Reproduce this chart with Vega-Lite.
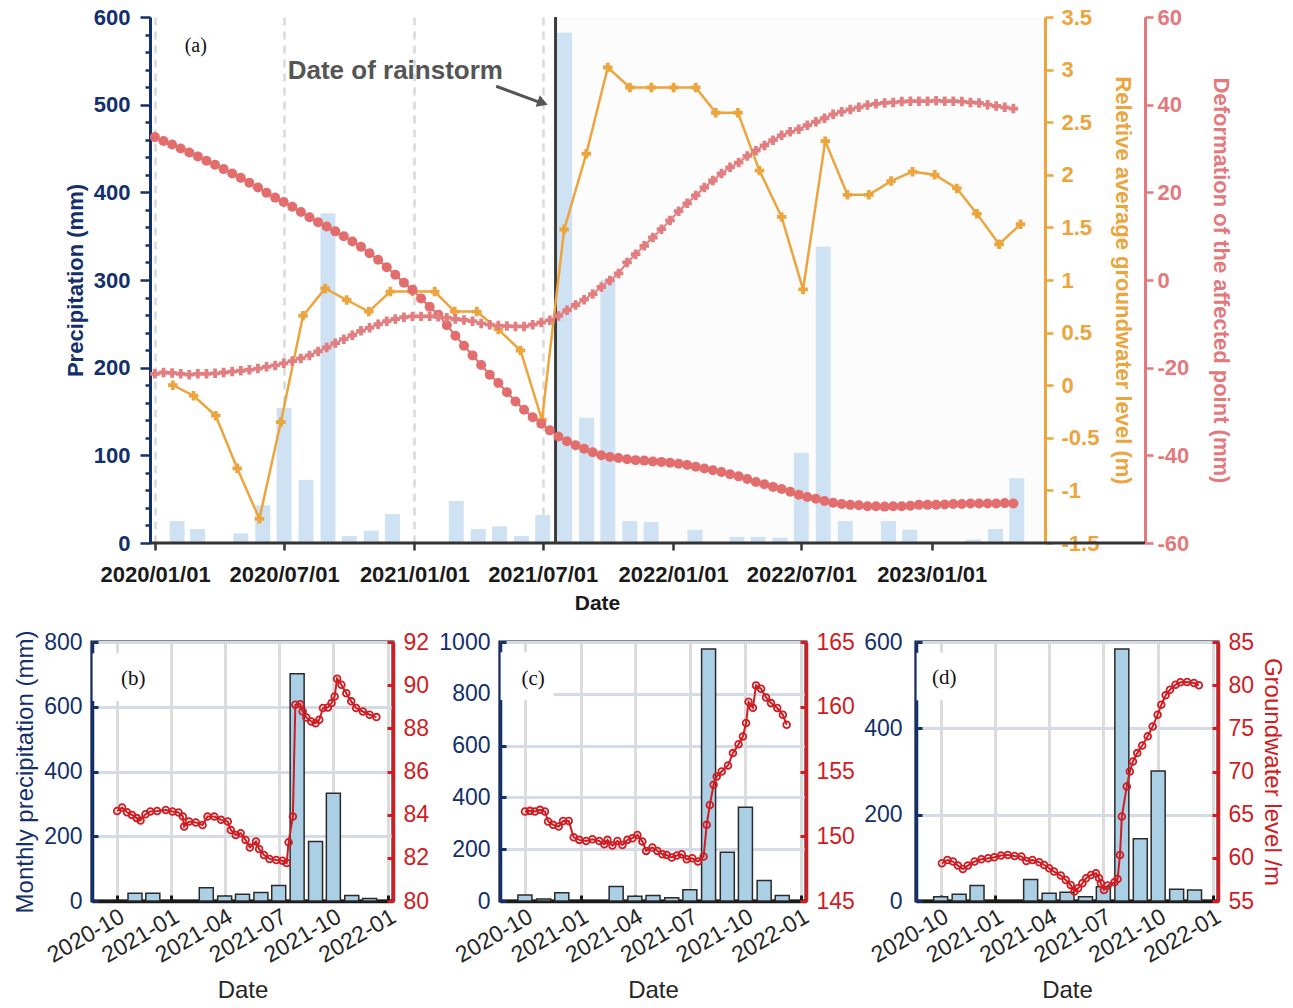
{
  "$schema": "https://vega.github.io/schema/vega-lite/v6.json",
  "padding": {"left": 12, "top": 6, "right": 0, "bottom": 0},
  "background": "white",
  "config": {
    "font": "Liberation Sans",
    "view": {"stroke": null},
    "axis": {"labelFont": "Liberation Sans", "titleFont": "Liberation Sans", "labelOverlap": false, "labelBound": false},
    "title": {"font": "Liberation Sans"}
  },
  "datasets": {
    "one": [{}],
    "pa": [
      {"t": "2020-02-01", "v": 25}, {"t": "2020-03-01", "v": 16}, {"t": "2020-05-01", "v": 11}, {"t": "2020-06-01", "v": 43},
      {"t": "2020-07-01", "v": 154}, {"t": "2020-08-01", "v": 72}, {"t": "2020-09-01", "v": 376}, {"t": "2020-10-01", "v": 8},
      {"t": "2020-11-01", "v": 14}, {"t": "2020-12-01", "v": 33}, {"t": "2021-03-01", "v": 48}, {"t": "2021-04-01", "v": 16},
      {"t": "2021-05-01", "v": 19}, {"t": "2021-06-01", "v": 8}, {"t": "2021-07-01", "v": 32}, {"t": "2021-08-01", "v": 582},
      {"t": "2021-09-01", "v": 143}, {"t": "2021-10-01", "v": 300}, {"t": "2021-11-01", "v": 25}, {"t": "2021-12-01", "v": 24},
      {"t": "2022-02-01", "v": 15}, {"t": "2022-04-01", "v": 7}, {"t": "2022-05-01", "v": 7}, {"t": "2022-06-01", "v": 6},
      {"t": "2022-07-01", "v": 103}, {"t": "2022-08-01", "v": 338}, {"t": "2022-09-01", "v": 25}, {"t": "2022-11-01", "v": 25},
      {"t": "2022-12-01", "v": 15}, {"t": "2023-03-01", "v": 4}, {"t": "2023-04-01", "v": 16}, {"t": "2023-05-01", "v": 74}
    ],
    "gw": [
      {"t": "2020-02-01", "g": 0.0}, {"t": "2020-03-01", "g": -0.1}, {"t": "2020-04-01", "g": -0.29}, {"t": "2020-05-01", "g": -0.79},
      {"t": "2020-06-01", "g": -1.27}, {"t": "2020-07-01", "g": -0.35}, {"t": "2020-08-01", "g": 0.66}, {"t": "2020-09-01", "g": 0.92},
      {"t": "2020-10-01", "g": 0.81}, {"t": "2020-11-01", "g": 0.7}, {"t": "2020-12-01", "g": 0.89}, {"t": "2021-01-01", "g": 0.89},
      {"t": "2021-02-01", "g": 0.89}, {"t": "2021-03-01", "g": 0.7}, {"t": "2021-04-01", "g": 0.7}, {"t": "2021-05-01", "g": 0.53},
      {"t": "2021-06-01", "g": 0.33}, {"t": "2021-07-01", "g": -0.33}, {"t": "2021-08-01", "g": 1.48}, {"t": "2021-09-01", "g": 2.2},
      {"t": "2021-10-01", "g": 3.02}, {"t": "2021-11-01", "g": 2.83}, {"t": "2021-12-01", "g": 2.83}, {"t": "2022-01-01", "g": 2.83},
      {"t": "2022-02-01", "g": 2.83}, {"t": "2022-03-01", "g": 2.59}, {"t": "2022-04-01", "g": 2.59}, {"t": "2022-05-01", "g": 2.04},
      {"t": "2022-06-01", "g": 1.6}, {"t": "2022-07-01", "g": 0.91}, {"t": "2022-08-01", "g": 2.32}, {"t": "2022-09-01", "g": 1.81},
      {"t": "2022-10-01", "g": 1.81}, {"t": "2022-11-01", "g": 1.94}, {"t": "2022-12-01", "g": 2.03}, {"t": "2023-01-01", "g": 2.0},
      {"t": "2023-02-01", "g": 1.87}, {"t": "2023-03-01", "g": 1.63}, {"t": "2023-04-01", "g": 1.34}, {"t": "2023-05-01", "g": 1.53}
    ],
    "def": [
      {"t": "2020-01-07", "c": 32.6, "p": -21.4}, {"t": "2020-01-19", "c": 31.7, "p": -21.1}, {"t": "2020-01-31", "c": 30.9, "p": -21.2},
      {"t": "2020-02-12", "c": 30.0, "p": -21.4}, {"t": "2020-02-24", "c": 29.1, "p": -21.6}, {"t": "2020-03-07", "c": 28.2, "p": -21.4},
      {"t": "2020-03-19", "c": 27.2, "p": -21.4}, {"t": "2020-03-31", "c": 26.3, "p": -21.3}, {"t": "2020-04-12", "c": 25.3, "p": -21.1},
      {"t": "2020-04-24", "c": 24.3, "p": -20.9}, {"t": "2020-05-06", "c": 23.3, "p": -20.7}, {"t": "2020-05-18", "c": 22.2, "p": -20.5},
      {"t": "2020-05-30", "c": 21.1, "p": -20.2}, {"t": "2020-06-11", "c": 19.9, "p": -19.8}, {"t": "2020-06-23", "c": 18.8, "p": -19.5},
      {"t": "2020-07-05", "c": 17.8, "p": -19.0}, {"t": "2020-07-17", "c": 16.7, "p": -18.5}, {"t": "2020-07-29", "c": 15.5, "p": -17.9},
      {"t": "2020-08-10", "c": 14.3, "p": -17.2}, {"t": "2020-08-22", "c": 13.2, "p": -16.3}, {"t": "2020-09-03", "c": 12.2, "p": -15.4},
      {"t": "2020-09-15", "c": 11.1, "p": -14.4}, {"t": "2020-09-27", "c": 10.0, "p": -13.5}, {"t": "2020-10-09", "c": 8.8, "p": -12.6},
      {"t": "2020-10-21", "c": 7.6, "p": -11.6}, {"t": "2020-11-02", "c": 6.1, "p": -10.9}, {"t": "2020-11-14", "c": 4.6, "p": -10.1},
      {"t": "2020-11-26", "c": 2.9, "p": -9.4}, {"t": "2020-12-08", "c": 1.2, "p": -8.9}, {"t": "2020-12-20", "c": -0.6, "p": -8.5},
      {"t": "2021-01-01", "c": -2.2, "p": -8.3}, {"t": "2021-01-13", "c": -4.2, "p": -8.3}, {"t": "2021-01-25", "c": -6.1, "p": -8.3},
      {"t": "2021-02-06", "c": -7.9, "p": -8.4}, {"t": "2021-02-18", "c": -10.3, "p": -8.6}, {"t": "2021-03-02", "c": -12.7, "p": -8.9},
      {"t": "2021-03-14", "c": -15.0, "p": -9.1}, {"t": "2021-03-26", "c": -17.2, "p": -9.4}, {"t": "2021-04-07", "c": -19.4, "p": -9.9},
      {"t": "2021-04-19", "c": -21.6, "p": -10.2}, {"t": "2021-05-01", "c": -23.5, "p": -10.4}, {"t": "2021-05-13", "c": -25.6, "p": -10.5},
      {"t": "2021-05-25", "c": -27.7, "p": -10.6}, {"t": "2021-06-06", "c": -29.6, "p": -10.6}, {"t": "2021-06-18", "c": -31.3, "p": -10.2},
      {"t": "2021-06-30", "c": -32.8, "p": -9.7}, {"t": "2021-07-12", "c": -34.3, "p": -9.2}, {"t": "2021-07-24", "c": -35.7, "p": -8.2},
      {"t": "2021-08-05", "c": -36.8, "p": -6.9}, {"t": "2021-08-17", "c": -37.7, "p": -5.7}, {"t": "2021-08-29", "c": -38.5, "p": -4.5},
      {"t": "2021-09-10", "c": -39.3, "p": -3.2}, {"t": "2021-09-22", "c": -40.0, "p": -1.6}, {"t": "2021-10-04", "c": -40.4, "p": -0.1},
      {"t": "2021-10-16", "c": -40.6, "p": 1.5}, {"t": "2021-10-28", "c": -40.9, "p": 4.0}, {"t": "2021-11-09", "c": -41.1, "p": 5.9},
      {"t": "2021-11-21", "c": -41.2, "p": 7.8}, {"t": "2021-12-03", "c": -41.4, "p": 9.7}, {"t": "2021-12-15", "c": -41.5, "p": 11.6},
      {"t": "2021-12-27", "c": -41.7, "p": 13.6}, {"t": "2022-01-08", "c": -41.9, "p": 15.7}, {"t": "2022-01-20", "c": -42.2, "p": 17.5},
      {"t": "2022-02-01", "c": -42.6, "p": 19.3}, {"t": "2022-02-13", "c": -43.0, "p": 21.1}, {"t": "2022-02-25", "c": -43.4, "p": 22.7},
      {"t": "2022-03-09", "c": -43.8, "p": 24.3}, {"t": "2022-03-21", "c": -44.3, "p": 25.7}, {"t": "2022-04-02", "c": -44.8, "p": 26.8},
      {"t": "2022-04-14", "c": -45.4, "p": 28.3}, {"t": "2022-04-26", "c": -46.1, "p": 29.5}, {"t": "2022-05-08", "c": -46.6, "p": 30.7},
      {"t": "2022-05-20", "c": -47.2, "p": 31.9}, {"t": "2022-06-01", "c": -47.7, "p": 33.0}, {"t": "2022-06-13", "c": -48.3, "p": 33.8},
      {"t": "2022-06-25", "c": -49.0, "p": 34.4}, {"t": "2022-07-07", "c": -49.5, "p": 35.3}, {"t": "2022-07-19", "c": -49.9, "p": 36.1},
      {"t": "2022-07-31", "c": -50.4, "p": 36.9}, {"t": "2022-08-12", "c": -50.8, "p": 37.8}, {"t": "2022-08-24", "c": -51.1, "p": 38.4},
      {"t": "2022-09-05", "c": -51.3, "p": 38.9}, {"t": "2022-09-17", "c": -51.4, "p": 39.4}, {"t": "2022-09-29", "c": -51.6, "p": 39.9},
      {"t": "2022-10-11", "c": -51.6, "p": 40.2}, {"t": "2022-10-23", "c": -51.7, "p": 40.4}, {"t": "2022-11-04", "c": -51.6, "p": 40.5},
      {"t": "2022-11-16", "c": -51.6, "p": 40.7}, {"t": "2022-11-28", "c": -51.5, "p": 40.8}, {"t": "2022-12-10", "c": -51.3, "p": 40.8},
      {"t": "2022-12-22", "c": -51.3, "p": 40.8}, {"t": "2023-01-03", "c": -51.3, "p": 40.9}, {"t": "2023-01-15", "c": -51.2, "p": 40.8},
      {"t": "2023-01-27", "c": -51.1, "p": 40.8}, {"t": "2023-02-08", "c": -51.1, "p": 40.7}, {"t": "2023-02-20", "c": -51.0, "p": 40.5},
      {"t": "2023-03-04", "c": -51.0, "p": 40.4}, {"t": "2023-03-16", "c": -51.0, "p": 40.0}, {"t": "2023-03-28", "c": -51.0, "p": 39.7},
      {"t": "2023-04-09", "c": -50.9, "p": 39.4}, {"t": "2023-04-21", "c": -51.0, "p": 39.1}
    ],
    "pb": [
      {"t": "2020-11-01", "v": 24}, {"t": "2020-12-01", "v": 24}, {"t": "2021-03-01", "v": 41}, {"t": "2021-04-01", "v": 15.5},
      {"t": "2021-05-01", "v": 21}, {"t": "2021-06-01", "v": 26}, {"t": "2021-07-01", "v": 48}, {"t": "2021-08-01", "v": 702},
      {"t": "2021-09-01", "v": 184}, {"t": "2021-10-01", "v": 333}, {"t": "2021-11-01", "v": 17}, {"t": "2021-12-01", "v": 8}
    ],
    "pc": [
      {"t": "2020-10-01", "v": 23}, {"t": "2020-11-01", "v": 8}, {"t": "2020-12-01", "v": 32}, {"t": "2021-03-01", "v": 56},
      {"t": "2021-04-01", "v": 18}, {"t": "2021-05-01", "v": 21}, {"t": "2021-06-01", "v": 13}, {"t": "2021-07-01", "v": 43},
      {"t": "2021-08-01", "v": 973}, {"t": "2021-09-01", "v": 188}, {"t": "2021-10-01", "v": 362}, {"t": "2021-11-01", "v": 79},
      {"t": "2021-12-01", "v": 21}
    ],
    "pd": [
      {"t": "2020-10-01", "v": 10}, {"t": "2020-11-01", "v": 15.5}, {"t": "2020-12-01", "v": 36}, {"t": "2021-03-01", "v": 50},
      {"t": "2021-04-01", "v": 18}, {"t": "2021-05-01", "v": 20}, {"t": "2021-06-01", "v": 10}, {"t": "2021-07-01", "v": 33},
      {"t": "2021-08-01", "v": 584}, {"t": "2021-09-01", "v": 144}, {"t": "2021-10-01", "v": 301}, {"t": "2021-11-01", "v": 27},
      {"t": "2021-12-01", "v": 25.5}
    ],
    "gb": [
      {"t":"2020-10-09","v":84.17},{"t":"2020-10-17","v":84.33},{"t":"2020-10-25","v":84.11},{"t":"2020-11-02","v":83.99},{"t":"2020-11-10","v":83.84},{"t":"2020-11-16","v":83.73},{"t":"2020-11-24","v":84.02},{"t":"2020-12-02","v":84.15},{"t":"2020-12-13","v":84.17},{"t":"2020-12-27","v":84.22},{"t":"2021-01-07","v":84.15},{"t":"2021-01-17","v":84.1},{"t":"2021-01-24","v":83.91},{"t":"2021-01-26","v":83.45},{"t":"2021-02-03","v":83.68},{"t":"2021-02-14","v":83.64},{"t":"2021-02-25","v":83.52},{"t":"2021-03-05","v":83.91},{"t":"2021-03-16","v":83.91},{"t":"2021-03-27","v":83.76},{"t":"2021-04-07","v":83.68},{"t":"2021-04-12","v":83.29},{"t":"2021-04-20","v":83.06},{"t":"2021-04-28","v":83.14},{"t":"2021-05-06","v":82.83},{"t":"2021-05-13","v":82.48},{"t":"2021-05-23","v":82.76},{"t":"2021-05-28","v":82.41},{"t":"2021-06-05","v":82.13},{"t":"2021-06-14","v":81.95},{"t":"2021-06-25","v":81.9},{"t":"2021-07-05","v":81.87},{"t":"2021-07-12","v":81.76},{"t":"2021-07-15","v":82.72},{"t":"2021-07-22","v":83.91},{"t":"2021-07-26","v":89.09},{"t":"2021-08-03","v":89.12},{"t":"2021-08-07","v":88.78},{"t":"2021-08-13","v":88.5},{"t":"2021-08-21","v":88.32},{"t":"2021-08-28","v":88.24},{"t":"2021-09-03","v":88.4},{"t":"2021-09-09","v":88.94},{"t":"2021-09-17","v":88.97},{"t":"2021-09-23","v":89.17},{"t":"2021-09-28","v":89.48},{"t":"2021-10-02","v":90.3},{"t":"2021-10-09","v":90.02},{"t":"2021-10-17","v":89.63},{"t":"2021-10-25","v":89.25},{"t":"2021-11-02","v":88.94},{"t":"2021-11-13","v":88.78},{"t":"2021-11-24","v":88.63},{"t":"2021-12-05","v":88.52}
    ],
    "gc": [
      {"t":"2020-10-08","v":151.91},{"t":"2020-10-16","v":151.96},{"t":"2020-10-24","v":151.91},{"t":"2020-11-01","v":152.04},{"t":"2020-11-09","v":151.91},{"t":"2020-11-14","v":151.14},{"t":"2020-11-22","v":150.88},{"t":"2020-12-01","v":150.75},{"t":"2020-12-08","v":151.18},{"t":"2020-12-17","v":151.18},{"t":"2020-12-25","v":149.92},{"t":"2021-01-03","v":149.72},{"t":"2021-01-14","v":149.64},{"t":"2021-01-24","v":149.77},{"t":"2021-02-04","v":149.64},{"t":"2021-02-12","v":149.38},{"t":"2021-02-17","v":149.72},{"t":"2021-02-25","v":149.28},{"t":"2021-03-05","v":149.64},{"t":"2021-03-13","v":149.33},{"t":"2021-03-21","v":149.72},{"t":"2021-03-29","v":149.85},{"t":"2021-04-06","v":150.1},{"t":"2021-04-14","v":149.59},{"t":"2021-04-20","v":148.87},{"t":"2021-04-30","v":149.13},{"t":"2021-05-08","v":148.87},{"t":"2021-05-16","v":148.61},{"t":"2021-05-23","v":148.56},{"t":"2021-05-31","v":148.36},{"t":"2021-06-08","v":148.51},{"t":"2021-06-16","v":148.61},{"t":"2021-06-24","v":148.22},{"t":"2021-07-03","v":148.3},{"t":"2021-07-12","v":148.05},{"t":"2021-07-21","v":148.43},{"t":"2021-07-26","v":150.88},{"t":"2021-07-31","v":152.42},{"t":"2021-08-06","v":153.97},{"t":"2021-08-11","v":154.62},{"t":"2021-08-19","v":155.0},{"t":"2021-08-29","v":155.47},{"t":"2021-09-06","v":156.42},{"t":"2021-09-15","v":157.11},{"t":"2021-09-22","v":157.71},{"t":"2021-09-27","v":158.74},{"t":"2021-10-01","v":160.38},{"t":"2021-10-08","v":159.92},{"t":"2021-10-13","v":161.65},{"t":"2021-10-21","v":161.39},{"t":"2021-10-29","v":160.72},{"t":"2021-11-06","v":160.28},{"t":"2021-11-16","v":159.9},{"t":"2021-11-25","v":159.38},{"t":"2021-12-01","v":158.61}
    ],
    "gd": [
      {"t":"2020-10-10","v":59.37},{"t":"2020-10-19","v":59.75},{"t":"2020-10-28","v":59.57},{"t":"2020-11-05","v":59.1},{"t":"2020-11-13","v":58.71},{"t":"2020-11-21","v":59.1},{"t":"2020-12-02","v":59.57},{"t":"2020-12-13","v":59.84},{"t":"2020-12-24","v":59.95},{"t":"2021-01-03","v":60.07},{"t":"2021-01-14","v":60.26},{"t":"2021-01-25","v":60.33},{"t":"2021-02-05","v":60.22},{"t":"2021-02-16","v":60.15},{"t":"2021-02-24","v":59.64},{"t":"2021-03-06","v":59.75},{"t":"2021-03-17","v":59.49},{"t":"2021-03-25","v":59.17},{"t":"2021-04-02","v":58.79},{"t":"2021-04-10","v":58.41},{"t":"2021-04-21","v":57.95},{"t":"2021-04-29","v":57.44},{"t":"2021-05-07","v":56.86},{"t":"2021-05-13","v":56.09},{"t":"2021-05-19","v":56.47},{"t":"2021-05-26","v":57.05},{"t":"2021-06-01","v":57.63},{"t":"2021-06-09","v":58.02},{"t":"2021-06-17","v":58.21},{"t":"2021-06-22","v":57.63},{"t":"2021-06-25","v":57.05},{"t":"2021-06-30","v":56.28},{"t":"2021-07-06","v":56.79},{"t":"2021-07-17","v":57.17},{"t":"2021-07-22","v":57.55},{"t":"2021-07-26","v":60.33},{"t":"2021-07-29","v":64.79},{"t":"2021-08-06","v":68.27},{"t":"2021-08-11","v":70.01},{"t":"2021-08-16","v":71.17},{"t":"2021-08-23","v":72.13},{"t":"2021-08-31","v":73.02},{"t":"2021-09-09","v":74.07},{"t":"2021-09-17","v":75.22},{"t":"2021-09-25","v":76.57},{"t":"2021-10-01","v":77.73},{"t":"2021-10-08","v":78.82},{"t":"2021-10-15","v":79.47},{"t":"2021-10-24","v":80.05},{"t":"2021-11-01","v":80.33},{"t":"2021-11-12","v":80.36},{"t":"2021-11-23","v":80.25},{"t":"2021-12-01","v":79.98}
    ]
  },
  "concat": [
    {
      "width": 1053,
      "height": 526,
      "layer": [
        {
          "data": {"name": "one"},
          "mark": {"type": "rect", "color": "#fcfcfc"},
          "encoding": {
            "x": {"datum": {"year": 2021, "month": 7, "date": 20, "utc": true}, "type": "temporal", "scale": {"type": "utc", "domain": [{"year": 2019, "month": 10, "date": 11, "utc": true}, {"year": 2023, "month": 10, "date": 22, "utc": true}]}, "axis": null},
            "x2": {"datum": {"year": 2023, "month": 6, "date": 2, "utc": true}}
          }
        },
        {
          "data": {"name": "pa"},
          "mark": {"type": "bar", "color": "#cfe2f3", "size": 15},
          "encoding": {
            "x": {
              "field": "t", "type": "temporal",
              "scale": {"type": "utc", "domain": [{"year": 2019, "month": 10, "date": 11, "utc": true}, {"year": 2023, "month": 10, "date": 22, "utc": true}]},
              "axis": {
                "orient": "bottom",
                "values": [{"year": 2020, "month": 1, "date": 1, "utc": true}, {"year": 2020, "month": 7, "date": 1, "utc": true}, {"year": 2021, "month": 1, "date": 1, "utc": true}, {"year": 2021, "month": 7, "date": 1, "utc": true}, {"year": 2022, "month": 1, "date": 1, "utc": true}, {"year": 2022, "month": 7, "date": 1, "utc": true}, {"year": 2023, "month": 1, "date": 1, "utc": true}],
                "labelExpr": "utcFormat(datum.value, '%Y/%m/%d')",
                "labelFontSize": 22, "labelFontWeight": "bold", "labelColor": "#1a1a1a", "labelPadding": 14,
                "title": "Date", "titleFontSize": 21, "titleFontWeight": "bold", "titleColor": "#1a1a1a", "titlePadding": 7,
                "titleX": 505,
                "tickSize": 7, "tickWidth": 2.5, "tickColor": "#333333",
                "domain": false,
                "grid": true, "gridDash": [8, 6], "gridColor": "#d9d9d9", "gridWidth": 2.5
              }
            },
            "y": {
              "field": "v", "type": "quantitative",
              "scale": {"domain": [0, 600], "nice": false},
              "axis": {
                "orient": "left", "offset": -58,
                "values": [0, 20, 40, 60, 80, 100, 120, 140, 160, 180, 200, 220, 240, 260, 280, 300, 320, 340, 360, 380, 400, 420, 440, 460, 480, 500, 520, 540, 560, 580, 600],
                "labelExpr": "datum.value % 100 === 0 ? datum.label : ''",
                "format": "d",
                "tickSize": {"condition": {"test": "datum.value % 100 === 0", "value": 10}, "value": 5},
                "tickColor": "#13306b", "tickWidth": 2.5,
                "domainColor": "#13306b", "domainWidth": 3,
                "labelColor": "#13306b", "labelFontSize": 22, "labelFontWeight": "bold", "labelPadding": 10,
                "title": "Precipitation (mm)", "titleColor": "#13306b", "titleFontSize": 22, "titleFontWeight": "bold", "titlePadding": 6,
                "grid": false
              }
            }
          }
        },
        {
          "data": {"name": "one"},
          "mark": {"type": "rule", "color": "#333333", "strokeWidth": 3},
          "encoding": {
            "x": {"datum": {"year": 2019, "month": 12, "date": 31, "utc": true}, "type": "temporal", "scale": {"type": "utc", "domain": [{"year": 2019, "month": 10, "date": 11, "utc": true}, {"year": 2023, "month": 10, "date": 22, "utc": true}]}, "axis": null},
            "x2": {"datum": {"year": 2023, "month": 10, "date": 22, "utc": true}},
            "y": {"datum": 0, "type": "quantitative", "scale": {"domain": [0, 600], "nice": false}, "axis": null}
          }
        },
        {
          "data": {"name": "one"},
          "mark": {"type": "rule", "color": "#3c3c3c", "strokeWidth": 3},
          "encoding": {
            "x": {"datum": {"year": 2021, "month": 7, "date": 20, "utc": true}, "type": "temporal", "scale": {"type": "utc", "domain": [{"year": 2019, "month": 10, "date": 11, "utc": true}, {"year": 2023, "month": 10, "date": 22, "utc": true}]}, "axis": null}
          }
        },
        {
          "data": {"name": "one"},
          "mark": {"type": "rule", "color": "#555555", "strokeWidth": 3},
          "encoding": {
            "x": {"datum": {"year": 2021, "month": 4, "date": 28, "utc": true}, "type": "temporal", "scale": {"type": "utc", "domain": [{"year": 2019, "month": 10, "date": 11, "utc": true}, {"year": 2023, "month": 10, "date": 22, "utc": true}]}, "axis": null},
            "x2": {"datum": {"year": 2021, "month": 6, "date": 27, "utc": true}},
            "y": {"datum": 521, "type": "quantitative", "scale": {"domain": [0, 600], "nice": false}, "axis": null},
            "y2": {"datum": 503}
          }
        },
        {
          "data": {"name": "one"},
          "mark": {"type": "point", "shape": "triangle-right", "filled": true, "color": "#555555", "size": 150, "angle": 20, "opacity": 1},
          "encoding": {
            "x": {"datum": {"year": 2021, "month": 7, "date": 2, "utc": true}, "type": "temporal", "scale": {"type": "utc", "domain": [{"year": 2019, "month": 10, "date": 11, "utc": true}, {"year": 2023, "month": 10, "date": 22, "utc": true}]}, "axis": null},
            "y": {"datum": 502, "type": "quantitative", "scale": {"domain": [0, 600], "nice": false}, "axis": null}
          }
        },
        {
          "data": {"name": "one"},
          "mark": {"type": "text", "text": "Date of rainstorm", "fontSize": 26, "fontWeight": "bold", "color": "#555555", "font": "Liberation Sans"},
          "encoding": {
            "x": {"datum": {"year": 2020, "month": 12, "date": 8, "utc": true}, "type": "temporal", "scale": {"type": "utc", "domain": [{"year": 2019, "month": 10, "date": 11, "utc": true}, {"year": 2023, "month": 10, "date": 22, "utc": true}]}, "axis": null},
            "y": {"datum": 538, "type": "quantitative", "scale": {"domain": [0, 600], "nice": false}, "axis": null}
          }
        },
        {
          "data": {"name": "one"},
          "mark": {"type": "text", "text": "(a)", "fontSize": 20, "color": "#111111", "font": "Liberation Serif"},
          "encoding": {
            "x": {"datum": {"year": 2020, "month": 3, "date": 4, "utc": true}, "type": "temporal", "scale": {"type": "utc", "domain": [{"year": 2019, "month": 10, "date": 11, "utc": true}, {"year": 2023, "month": 10, "date": 22, "utc": true}]}, "axis": null},
            "y": {"datum": 567, "type": "quantitative", "scale": {"domain": [0, 600], "nice": false}, "axis": null}
          }
        },
        {
          "data": {"name": "gw"},
          "mark": {"type": "line", "color": "#eca43d", "strokeWidth": 2.5, "point": {"shape": "cross", "filled": true, "size": 90, "color": "#eca43d"}},
          "encoding": {
            "x": {"field": "t", "type": "temporal", "scale": {"type": "utc", "domain": [{"year": 2019, "month": 10, "date": 11, "utc": true}, {"year": 2023, "month": 10, "date": 22, "utc": true}]}, "axis": null},
            "y": {
              "field": "g", "type": "quantitative",
              "scale": {"domain": [-1.5, 3.5], "nice": false, "zero": false},
              "axis": {
                "orient": "right", "offset": -100,
                "values": [-1.5, -1, -0.5, 0, 0.5, 1, 1.5, 2, 2.5, 3, 3.5],
                "format": "~g",
                "labelExpr": "replace(datum.label, '\u2212', '-')",
                "tickSize": 8, "tickColor": "#eca43d", "tickWidth": 2.5,
                "domainColor": "#eca43d", "domainWidth": 3,
                "labelColor": "#eca43d", "labelFontSize": 22, "labelFontWeight": "bold", "labelPadding": 8,
                "title": "Reletive average groundwater level (m)", "titleColor": "#eca43d", "titleFontSize": 22, "titleFontWeight": "bold", "titlePadding": 12,
                "grid": false
              }
            }
          }
        },
        {
          "data": {"name": "def"},
          "mark": {"type": "line", "color": "#e36d6d", "strokeWidth": 2, "point": {"shape": "circle", "filled": true, "size": 100, "color": "#e36d6d"}},
          "encoding": {
            "x": {"field": "t", "type": "temporal", "scale": {"type": "utc", "domain": [{"year": 2019, "month": 10, "date": 11, "utc": true}, {"year": 2023, "month": 10, "date": 22, "utc": true}]}, "axis": null},
            "y": {
              "field": "c", "type": "quantitative",
              "scale": {"domain": [-60, 60], "nice": false, "zero": false},
              "axis": {
                "orient": "right",
                "values": [-60, -40, -20, 0, 20, 40, 60],
                "format": "d",
                "labelExpr": "replace(datum.label, '\u2212', '-')",
                "tickSize": 8, "tickColor": "#e3797c", "tickWidth": 2.5,
                "domainColor": "#e3797c", "domainWidth": 3,
                "labelColor": "#e3797c", "labelFontSize": 22, "labelFontWeight": "bold", "labelPadding": 4,
                "title": "Deformation of the affected point (mm)", "titleColor": "#e3797c", "titleFontSize": 22, "titleFontWeight": "bold", "titlePadding": 20,
                "grid": false
              }
            }
          }
        },
        {
          "data": {"name": "def"},
          "mark": {"type": "line", "color": "#e27e80", "strokeWidth": 2, "point": {"shape": "cross", "filled": true, "size": 90, "color": "#e27e80"}},
          "encoding": {
            "x": {"field": "t", "type": "temporal", "scale": {"type": "utc", "domain": [{"year": 2019, "month": 10, "date": 11, "utc": true}, {"year": 2023, "month": 10, "date": 22, "utc": true}]}, "axis": null},
            "y": {"field": "p", "type": "quantitative", "scale": {"domain": [-60, 60], "nice": false, "zero": false}, "axis": null}
          }
        }
      ],
      "resolve": {"scale": {"x": "independent", "y": "independent"}, "axis": {"x": "independent", "y": "independent"}}
    },
    {
      "hconcat": [
        {
          "width": 301, "height": 259,
          "view": {"stroke": "#111111", "strokeWidth": 3},
          "layer": [
            {
              "data": {"name": "pb"},
              "mark": {"type": "bar", "fill": "#abd0e6", "stroke": "#2a2a2a", "strokeWidth": 1.5, "size": 14},
              "encoding": {
                "x": {"field": "t", "type": "temporal", "scale": {"type": "utc", "domain": [{"year": 2020, "month": 8, "date": 29, "utc": true}, {"year": 2022, "month": 1, "date": 1, "utc": true}]},
                  "axis": {"orient": "bottom", "values": [{"year": 2020, "month": 10, "date": 1, "utc": true}, {"year": 2021, "month": 1, "date": 1, "utc": true}, {"year": 2021, "month": 4, "date": 1, "utc": true}, {"year": 2021, "month": 7, "date": 1, "utc": true}, {"year": 2021, "month": 10, "date": 1, "utc": true}, {"year": 2022, "month": 1, "date": 1, "utc": true}],
                    "labelExpr": "utcFormat(datum.value, '%Y-%m')", "labelAngle": -30, "labelAlign": "right", "labelBaseline": "top", "labelFontSize": 23, "labelColor": "#262626", "labelPadding": 10,
                    "title": "Date", "titleFontSize": 24, "titleFontWeight": "normal", "titleColor": "#262626", "titlePadding": 11,
                    "grid": true, "gridColor": "#dcdcdc", "gridWidth": 3, "domainColor": "#1a1a1a", "domainWidth": 3.5, "tickColor": "#1a1a1a", "tickSize": -6, "tickWidth": 3}},
                "y": {"field": "v", "type": "quantitative", "scale": {"domain": [0, 800], "nice": false},
                  "axis": {"orient": "left", "values": [0, 200, 400, 600, 800], "format": "d", "title": "Monthly precipitation (mm)", "titleColor": "#13306b", "titleFontSize": 24, "titleFontWeight": "normal", "titlePadding": 6,
                    "labelColor": "#13306b", "labelFontSize": 23, "labelPadding": 16, "domainColor": "#13306b", "domainWidth": 3.5, "tickColor": "#13306b", "tickSize": -6, "tickWidth": 3,
                    "grid": true, "gridColor": "#d5dbe6", "gridWidth": 3}}
              }
            },
            {
              "data": {"name": "one"},
              "mark": {"type": "rect", "color": "white"},
              "encoding": {
                "x": {"datum": {"year": 2020, "month": 8, "date": 30, "utc": true}, "type": "temporal", "scale": {"type": "utc", "domain": [{"year": 2020, "month": 8, "date": 29, "utc": true}, {"year": 2022, "month": 1, "date": 1, "utc": true}]}, "axis": null},
                "x2": {"datum": {"year": 2020, "month": 12, "date": 27, "utc": true}},
                "y": {"datum": 618, "type": "quantitative", "scale": {"domain": [0, 800], "nice": false}, "axis": null},
                "y2": {"datum": 765}
              }
            },
            {
              "data": {"name": "one"},
              "mark": {"type": "text", "text": "(b)", "fontSize": 21, "color": "#111111", "font": "Liberation Serif"},
              "encoding": {
                "x": {"datum": {"year": 2020, "month": 11, "date": 4, "utc": true}, "type": "temporal", "scale": {"type": "utc", "domain": [{"year": 2020, "month": 8, "date": 29, "utc": true}, {"year": 2022, "month": 1, "date": 1, "utc": true}]}, "axis": null},
                "y": {"datum": 685, "type": "quantitative", "scale": {"domain": [0, 800], "nice": false}, "axis": null}
              }
            },
            {
              "data": {"name": "gb"},
              "mark": {"type": "line", "color": "#d01c22", "strokeWidth": 2, "point": {"shape": "circle", "filled": false, "size": 45, "strokeWidth": 1.8, "color": "#d01c22"}},
              "encoding": {
                "x": {"field": "t", "type": "temporal", "scale": {"type": "utc", "domain": [{"year": 2020, "month": 8, "date": 29, "utc": true}, {"year": 2022, "month": 1, "date": 1, "utc": true}]}, "axis": null},
                "y": {"field": "v", "type": "quantitative", "scale": {"domain": [80, 92], "nice": false, "zero": false},
                  "axis": {"orient": "right", "values": [80, 82, 84, 86, 88, 90, 92], "format": "d", "title": null, "labelColor": "#d01c22", "labelFontSize": 23, "labelPadding": 16,
                    "domainColor": "#d01c22", "domainWidth": 3.5, "tickColor": "#d01c22", "tickSize": -6, "tickWidth": 3, "grid": false}}
              }
            }
          ],
          "resolve": {"scale": {"x": "independent", "y": "independent"}, "axis": {"x": "independent", "y": "independent"}}
        },
        {
          "width": 306, "height": 259,
          "view": {"stroke": "#111111", "strokeWidth": 3},
          "layer": [
            {
              "data": {"name": "pc"},
              "mark": {"type": "bar", "fill": "#abd0e6", "stroke": "#2a2a2a", "strokeWidth": 1.5, "size": 14},
              "encoding": {
                "x": {"field": "t", "type": "temporal", "scale": {"type": "utc", "domain": [{"year": 2020, "month": 8, "date": 29, "utc": true}, {"year": 2022, "month": 1, "date": 1, "utc": true}]},
                  "axis": {"orient": "bottom", "values": [{"year": 2020, "month": 10, "date": 1, "utc": true}, {"year": 2021, "month": 1, "date": 1, "utc": true}, {"year": 2021, "month": 4, "date": 1, "utc": true}, {"year": 2021, "month": 7, "date": 1, "utc": true}, {"year": 2021, "month": 10, "date": 1, "utc": true}, {"year": 2022, "month": 1, "date": 1, "utc": true}],
                    "labelExpr": "utcFormat(datum.value, '%Y-%m')", "labelAngle": -30, "labelAlign": "right", "labelBaseline": "top", "labelFontSize": 23, "labelColor": "#262626", "labelPadding": 10,
                    "title": "Date", "titleFontSize": 24, "titleFontWeight": "normal", "titleColor": "#262626", "titlePadding": 11,
                    "grid": true, "gridColor": "#dcdcdc", "gridWidth": 3, "domainColor": "#1a1a1a", "domainWidth": 3.5, "tickColor": "#1a1a1a", "tickSize": -6, "tickWidth": 3}},
                "y": {"field": "v", "type": "quantitative", "scale": {"domain": [0, 1000], "nice": false},
                  "axis": {"orient": "left", "values": [0, 200, 400, 600, 800, 1000], "format": "d", "title": null,
                    "labelColor": "#13306b", "labelFontSize": 23, "labelPadding": 16, "domainColor": "#13306b", "domainWidth": 3.5, "tickColor": "#13306b", "tickSize": -6, "tickWidth": 3,
                    "grid": true, "gridColor": "#d5dbe6", "gridWidth": 3}}
              }
            },
            {
              "data": {"name": "one"},
              "mark": {"type": "rect", "color": "white"},
              "encoding": {
                "x": {"datum": {"year": 2020, "month": 8, "date": 30, "utc": true}, "type": "temporal", "scale": {"type": "utc", "domain": [{"year": 2020, "month": 8, "date": 29, "utc": true}, {"year": 2022, "month": 1, "date": 1, "utc": true}]}, "axis": null},
                "x2": {"datum": {"year": 2020, "month": 11, "date": 23, "utc": true}},
                "y": {"datum": 776, "type": "quantitative", "scale": {"domain": [0, 1000], "nice": false}, "axis": null},
                "y2": {"datum": 960}
              }
            },
            {
              "data": {"name": "one"},
              "mark": {"type": "text", "text": "(c)", "fontSize": 21, "color": "#111111", "font": "Liberation Serif"},
              "encoding": {
                "x": {"datum": {"year": 2020, "month": 10, "date": 21, "utc": true}, "type": "temporal", "scale": {"type": "utc", "domain": [{"year": 2020, "month": 8, "date": 29, "utc": true}, {"year": 2022, "month": 1, "date": 1, "utc": true}]}, "axis": null},
                "y": {"datum": 857, "type": "quantitative", "scale": {"domain": [0, 1000], "nice": false}, "axis": null}
              }
            },
            {
              "data": {"name": "gc"},
              "mark": {"type": "line", "color": "#d01c22", "strokeWidth": 2, "point": {"shape": "circle", "filled": false, "size": 45, "strokeWidth": 1.8, "color": "#d01c22"}},
              "encoding": {
                "x": {"field": "t", "type": "temporal", "scale": {"type": "utc", "domain": [{"year": 2020, "month": 8, "date": 29, "utc": true}, {"year": 2022, "month": 1, "date": 1, "utc": true}]}, "axis": null},
                "y": {"field": "v", "type": "quantitative", "scale": {"domain": [145, 165], "nice": false, "zero": false},
                  "axis": {"orient": "right", "values": [145, 150, 155, 160, 165], "format": "d", "title": null, "labelColor": "#d01c22", "labelFontSize": 23, "labelPadding": 16,
                    "domainColor": "#d01c22", "domainWidth": 3.5, "tickColor": "#d01c22", "tickSize": -6, "tickWidth": 3, "grid": false}}
              }
            }
          ],
          "resolve": {"scale": {"x": "independent", "y": "independent"}, "axis": {"x": "independent", "y": "independent"}}
        },
        {
          "width": 302, "height": 259,
          "view": {"stroke": "#111111", "strokeWidth": 3},
          "layer": [
            {
              "data": {"name": "pd"},
              "mark": {"type": "bar", "fill": "#abd0e6", "stroke": "#2a2a2a", "strokeWidth": 1.5, "size": 14},
              "encoding": {
                "x": {"field": "t", "type": "temporal", "scale": {"type": "utc", "domain": [{"year": 2020, "month": 8, "date": 29, "utc": true}, {"year": 2022, "month": 1, "date": 1, "utc": true}]},
                  "axis": {"orient": "bottom", "values": [{"year": 2020, "month": 10, "date": 1, "utc": true}, {"year": 2021, "month": 1, "date": 1, "utc": true}, {"year": 2021, "month": 4, "date": 1, "utc": true}, {"year": 2021, "month": 7, "date": 1, "utc": true}, {"year": 2021, "month": 10, "date": 1, "utc": true}, {"year": 2022, "month": 1, "date": 1, "utc": true}],
                    "labelExpr": "utcFormat(datum.value, '%Y-%m')", "labelAngle": -30, "labelAlign": "right", "labelBaseline": "top", "labelFontSize": 23, "labelColor": "#262626", "labelPadding": 10,
                    "title": "Date", "titleFontSize": 24, "titleFontWeight": "normal", "titleColor": "#262626", "titlePadding": 11,
                    "grid": true, "gridColor": "#dcdcdc", "gridWidth": 3, "domainColor": "#1a1a1a", "domainWidth": 3.5, "tickColor": "#1a1a1a", "tickSize": -6, "tickWidth": 3}},
                "y": {"field": "v", "type": "quantitative", "scale": {"domain": [0, 600], "nice": false},
                  "axis": {"orient": "left", "values": [0, 200, 400, 600], "format": "d", "title": null,
                    "labelColor": "#13306b", "labelFontSize": 23, "labelPadding": 20, "domainColor": "#13306b", "domainWidth": 3.5, "tickColor": "#13306b", "tickSize": -6, "tickWidth": 3,
                    "grid": true, "gridColor": "#d5dbe6", "gridWidth": 3}}
              }
            },
            {
              "data": {"name": "one"},
              "mark": {"type": "rect", "color": "white"},
              "encoding": {
                "x": {"datum": {"year": 2020, "month": 8, "date": 30, "utc": true}, "type": "temporal", "scale": {"type": "utc", "domain": [{"year": 2020, "month": 8, "date": 29, "utc": true}, {"year": 2022, "month": 1, "date": 1, "utc": true}]}, "axis": null},
                "x2": {"datum": {"year": 2020, "month": 12, "date": 21, "utc": true}},
                "y": {"datum": 465, "type": "quantitative", "scale": {"domain": [0, 600], "nice": false}, "axis": null},
                "y2": {"datum": 575}
              }
            },
            {
              "data": {"name": "one"},
              "mark": {"type": "text", "text": "(d)", "fontSize": 21, "color": "#111111", "font": "Liberation Serif"},
              "encoding": {
                "x": {"datum": {"year": 2020, "month": 10, "date": 14, "utc": true}, "type": "temporal", "scale": {"type": "utc", "domain": [{"year": 2020, "month": 8, "date": 29, "utc": true}, {"year": 2022, "month": 1, "date": 1, "utc": true}]}, "axis": null},
                "y": {"datum": 516, "type": "quantitative", "scale": {"domain": [0, 600], "nice": false}, "axis": null}
              }
            },
            {
              "data": {"name": "gd"},
              "mark": {"type": "line", "color": "#d01c22", "strokeWidth": 2, "point": {"shape": "circle", "filled": false, "size": 45, "strokeWidth": 1.8, "color": "#d01c22"}},
              "encoding": {
                "x": {"field": "t", "type": "temporal", "scale": {"type": "utc", "domain": [{"year": 2020, "month": 8, "date": 29, "utc": true}, {"year": 2022, "month": 1, "date": 1, "utc": true}]}, "axis": null},
                "y": {"field": "v", "type": "quantitative", "scale": {"domain": [55, 85], "nice": false, "zero": false},
                  "axis": {"orient": "right", "values": [55, 60, 65, 70, 75, 80, 85], "format": "d", "title": "Groundwater level /m", "titleColor": "#d01c22", "titleFontSize": 24, "titleFontWeight": "normal", "titlePadding": 6,
                    "labelColor": "#d01c22", "labelFontSize": 23, "labelPadding": 16,
                    "domainColor": "#d01c22", "domainWidth": 3.5, "tickColor": "#d01c22", "tickSize": -6, "tickWidth": 3, "grid": false}}
              }
            }
          ],
          "resolve": {"scale": {"x": "independent", "y": "independent"}, "axis": {"x": "independent", "y": "independent"}}
        }
      ],
      "spacing": 6
    }
  ],
  "columns": 1,
  "align": "none",
  "spacing": 15
}
